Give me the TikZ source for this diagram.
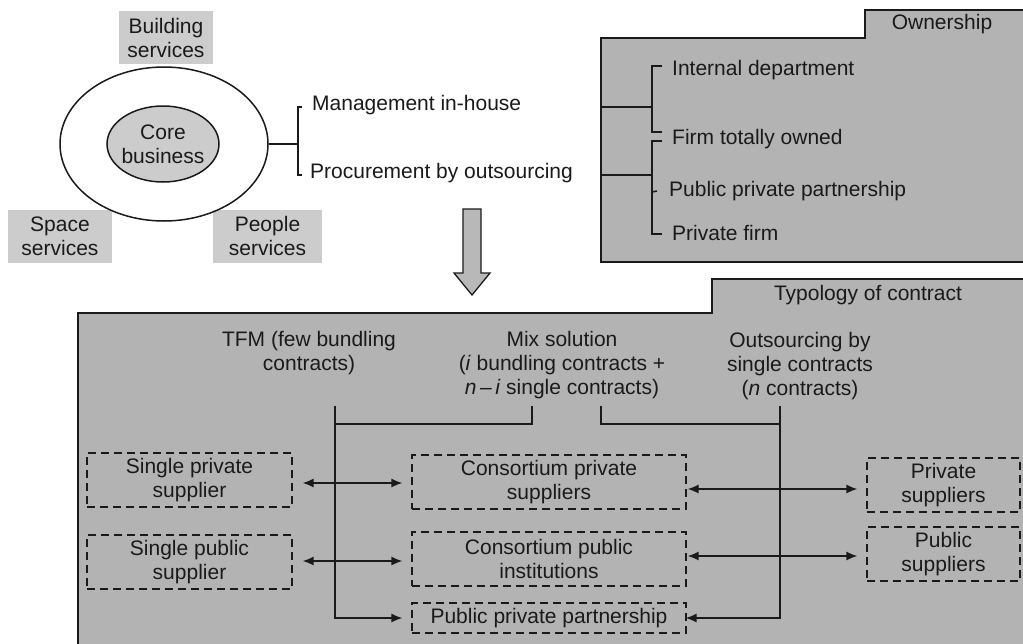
\documentclass[tikz,border=0pt]{standalone}
\usepackage{fontspec}
\setmainfont{Liberation Sans}
\usetikzlibrary{arrows.meta,shapes.geometric}
\definecolor{panelgrey}{HTML}{B3B3B3}
\definecolor{lightgrey}{HTML}{CCCCCC}
\definecolor{arrowgrey}{HTML}{B8B8B8}
\definecolor{ink}{HTML}{1A1A1A}

\begin{document}
\begin{tikzpicture}[x=1pt,y=-1pt,
  txt/.style={inner sep=0pt, align=center, text=ink, font=\fontsize{21}{24}\selectfont},
  lbl/.style={txt, anchor=west, align=left},
  svc/.style={txt, fill=lightgrey, minimum height=53pt},
  dbox/.style={txt, draw=ink, dash pattern=on 8pt off 5pt, line width=1.2pt},
  panel/.style={fill=panelgrey, draw=ink, line width=1.5pt},
  link/.style={draw=ink, line width=1.5pt},
  onearrow/.style={link, -{Latex[length=11pt,width=9pt]}},
  twoarrow/.style={link, {Latex[length=11pt,width=9pt]}-{Latex[length=11pt,width=9pt]}}
]
\useasboundingbox (0,0) rectangle (1023,643);
\clip (0,0) rectangle (1023,643);

% ---------- service ring ----------
\node[svc, minimum width=94pt] (bld) at (166,37.5) {Building\\services};
\node[svc, minimum width=104pt] (spc) at (60,236) {Space\\services};
\node[svc, minimum width=109pt] (ppl) at (267.5,236) {People\\services};
\node[draw=ink, line width=1.5pt, ellipse, inner sep=0pt,
      minimum width=208pt, minimum height=154pt] (outer) at (164,144) {};
\node[draw=ink, line width=1.5pt, ellipse, fill=lightgrey, inner sep=0pt,
      minimum width=112pt, minimum height=76pt] (core) at (163,144) {};
\node[txt] at (core) {Core\\business};

% management choice
\node[lbl] (mgmt) at (312,105) {Management in-house};
\node[lbl] (proc) at (310,173) {Procurement by outsourcing};
\coordinate (fork) at (298,144);
\draw[link] (outer.east) -- (fork);
\draw[link] ([xshift=-10pt]mgmt.west |- 0,107) -- (298,107) -- (298,175) -- ([xshift=-8pt]proc.west |- 0,175);

% block arrow
\draw[fill=arrowgrey, draw=ink, line width=1.3pt]
  (463,209) -- (481,209) -- (481,273) -- (490,273) -- (472,295) -- (454,273) -- (463,273) -- cycle;

% ---------- ownership panel ----------
\draw[panel] (601,262) -- (601,38) -- (865,38) -- (865,10) -- (1040,10) -- (1040,262) -- cycle;
\node[txt] (own) at (942,24) {Ownership};
\node[lbl] (intd) at (672,70) {Internal department};
\node[lbl] (firm) at (672,139) {Firm totally owned};
\node[lbl] (ppo) at (669,191) {Public private partnership};
\node[lbl] (prf) at (672,233) {Private firm};
\draw[link] (601,107) -- (652,107);
\draw[link] (intd.west |- 0,66) ++(-10,0) -- (652,66) -- (652,132) -- ([xshift=-10pt]firm.west |- 0,132);
\draw[link] (601,175) -- (652,175);
\draw[link] ([xshift=-10pt]firm.west |- 0,141) -- (652,141) -- (652,234) -- ([xshift=-10pt]prf.west |- 0,234);
\draw[link] (652,192) -- ([xshift=-12pt]ppo.west);

% ---------- typology panel ----------
\draw[panel] (78,660) -- (78,313) -- (712,313) -- (712,279) -- (1040,279) -- (1040,660) -- cycle;
\node[txt] (typ) at (868,295) {Typology of contract};

\node[txt] (tfm) at (309,353) {TFM (few bundling\\contracts)};
\node[txt] (mix) at (562,365) {Mix solution\\(\textit{i} bundling contracts +\\\textit{n}\,–\,\textit{i} single contracts)};
\node[txt] (outs) at (800,366) {Outsourcing by\\single contracts\\(\textit{n} contracts)};

\node[dbox, minimum width=205pt, minimum height=54pt] (spp) at (189.5,480) {Single private\\supplier};
\node[dbox, minimum width=205pt, minimum height=54pt] (spu) at (189.5,562) {Single public\\supplier};
\node[dbox, minimum width=274pt, minimum height=54pt] (cpr) at (549,482) {Consortium private\\suppliers};
\node[dbox, minimum width=274pt, minimum height=54pt] (cpu) at (549,559) {Consortium public\\institutions};
\node[dbox, minimum width=274pt, minimum height=30pt] (ppp) at (549,618) {Public private partnership};
\node[dbox, minimum width=153pt, minimum height=54pt] (prs) at (943.5,485) {Private\\suppliers};
\node[dbox, minimum width=153pt, minimum height=54pt] (pus) at (943.5,554) {Public\\suppliers};

% contract-type connectors
\draw[onearrow, shorten >=9pt] (335,406) |- (ppp.west);
\draw[link] (335,424) -| (532,406);
\draw[link] (601,406) |- (780,424);
\draw[onearrow, shorten >=-1pt] (780,406) |- (ppp.east);

% supplier links
\draw[twoarrow, shorten <=10pt, shorten >=9pt] (spp.east |- 0,483) -- (cpr.west |- 0,483);
\draw[twoarrow, shorten <=10pt, shorten >=9pt] (spu.east |- 0,561) -- (cpu.west |- 0,561);
\draw[twoarrow, shorten <=1pt, shorten >=9pt] (cpr.east |- 0,489) -- (prs.west |- 0,489);
\draw[twoarrow, shorten <=1pt, shorten >=9pt] (cpu.east |- 0,556) -- (pus.west |- 0,556);
\end{tikzpicture}
\end{document}
